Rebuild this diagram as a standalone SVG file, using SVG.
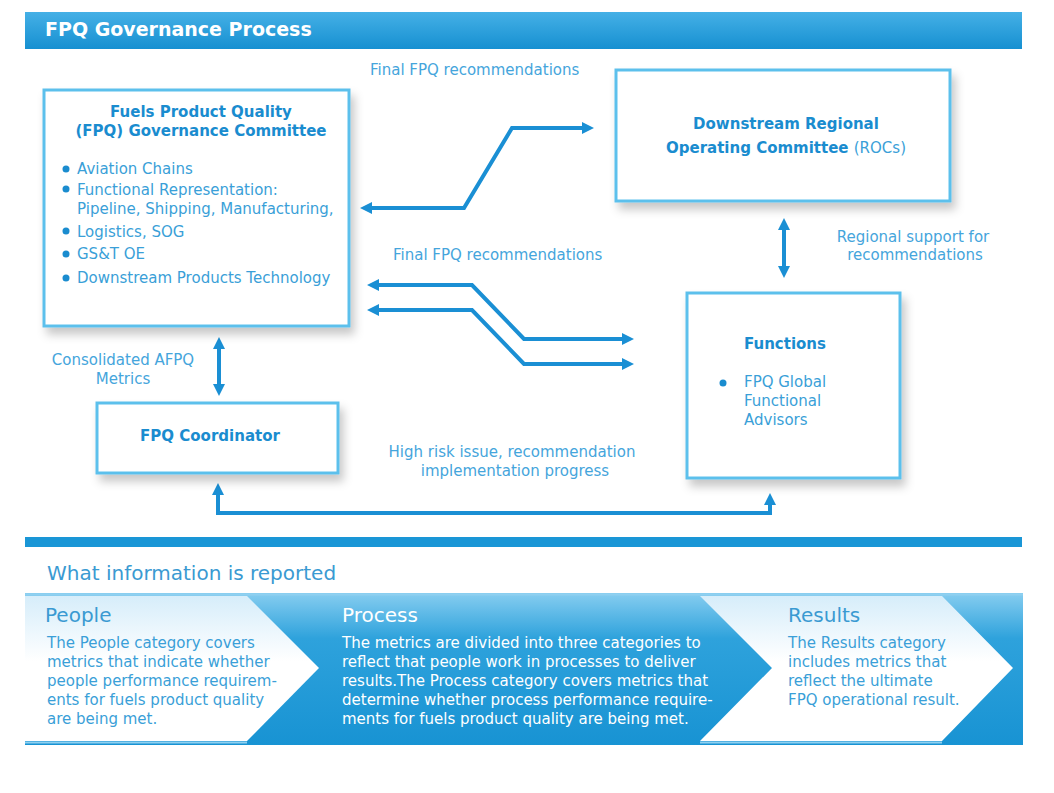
<svg xmlns="http://www.w3.org/2000/svg" width="1054" height="793" viewBox="0 0 1054 793">
<defs>
<linearGradient id="hdr" x1="0" y1="0" x2="0" y2="1">
<stop offset="0" stop-color="#45b0e6"/><stop offset="1" stop-color="#1690d1"/>
</linearGradient>
<linearGradient id="band" x1="0" y1="0" x2="0" y2="1">
<stop offset="0" stop-color="#86cdf0"/><stop offset="0.3" stop-color="#2ea2dc"/><stop offset="1" stop-color="#1893d3"/>
</linearGradient>
<linearGradient id="chev" x1="0" y1="0" x2="0" y2="1">
<stop offset="0" stop-color="#d6edfa"/><stop offset="0.45" stop-color="#ffffff"/><stop offset="1" stop-color="#ffffff"/>
</linearGradient>
<filter id="sh" x="-10%" y="-10%" width="130%" height="135%">
<feDropShadow dx="4" dy="7" stdDeviation="5" flood-color="#000" flood-opacity="0.22"/>
</filter>
<marker id="ah" viewBox="0 0 12 12" markerWidth="12" markerHeight="12" markerUnits="userSpaceOnUse" refX="2" refY="6" orient="auto-start-reverse">
<path d="M0,0 L12,6 L0,12 z" fill="#1a8fd4"/>
</marker>
<style>
text{font-family:"DejaVu Sans",Verdana,sans-serif}
.box{fill:#fff;stroke:#5cc0ec;stroke-width:3;filter:url(#sh)}
.t{font-size:15px;font-weight:bold;fill:#1a8ccf}
.r{font-size:15px;fill:#3a9fd8}
.lbl{font-size:15px;fill:#45a5dc}
.dot{fill:#1a8ccf}
.con{fill:none;stroke:#1a8fd4;stroke-width:4;marker-start:url(#ah);marker-end:url(#ah)}
.h{font-size:20px;fill:#3a9ad2}
.b{font-size:15px;fill:#3a9fd8}
.w{fill:#ffffff}
</style>
</defs>
<rect width="1054" height="793" fill="#fff"/>
<g id="header">
<rect x="25" y="12" width="997" height="37" fill="url(#hdr)"/>
<text x="45" y="36" font-size="19" font-weight="bold" fill="#fff">FPQ Governance Process</text>
</g>
<g id="connectors">
<path class="con" d="M370,208 L464,208 L512,128 L584,128"/>
<path class="con" d="M377,285 L472,285 L524,339 L624,339"/>
<path class="con" d="M377,310 L472,310 L524,364 L624,364"/>
<path class="con" d="M784,228 L784,268"/>
<path class="con" d="M219,347 L219,386"/>
<path class="con" d="M218,493 L218,513 L770,513 L770,503"/>
<text class="lbl" x="370" y="75">Final FPQ recommendations</text>
<text class="lbl" x="393" y="260">Final FPQ recommendations</text>
<text class="lbl" x="913" y="242" text-anchor="middle">Regional support for</text>
<text class="lbl" x="915" y="260" text-anchor="middle">recommendations</text>
<text class="lbl" x="123" y="365" text-anchor="middle">Consolidated AFPQ</text>
<text class="lbl" x="123" y="384" text-anchor="middle">Metrics</text>
<text class="lbl" x="512" y="457" text-anchor="middle">High risk issue, recommendation</text>
<text class="lbl" x="515" y="476" text-anchor="middle">implementation progress</text>
</g>
<g id="committee">
<rect class="box" x="44" y="90" width="305" height="236"/>
<text class="t" x="201" y="117" text-anchor="middle">Fuels Product Quality</text>
<text class="t" x="201" y="136" text-anchor="middle">(FPQ) Governance Committee</text>
<circle class="dot" cx="66" cy="169" r="3.5"/>
<circle class="dot" cx="66" cy="189" r="3.5"/>
<circle class="dot" cx="66" cy="231" r="3.5"/>
<circle class="dot" cx="66" cy="254" r="3.5"/>
<circle class="dot" cx="66" cy="278" r="3.5"/>
<text class="r" x="77" y="174">Aviation Chains</text>
<text class="r" x="77" y="195">Functional Representation:</text>
<text class="r" x="77" y="214">Pipeline, Shipping, Manufacturing,</text>
<text class="r" x="77" y="237">Logistics, SOG</text>
<text class="r" x="77" y="259">GS&amp;T OE</text>
<text class="r" x="77" y="283">Downstream Products Technology</text>
</g>
<g id="rocs">
<rect class="box" x="616" y="70" width="334" height="131"/>
<text class="t" x="786" y="129" text-anchor="middle">Downstream Regional</text>
<text x="786" y="153" text-anchor="middle" font-size="15"><tspan class="t">Operating Committee </tspan><tspan class="r">(ROCs)</tspan></text>
</g>
<g id="functions">
<rect class="box" x="687" y="293" width="213" height="185"/>
<text class="t" x="744" y="349">Functions</text>
<circle class="dot" cx="723" cy="383" r="3.5"/>
<text class="r" x="744" y="387">FPQ Global</text>
<text class="r" x="744" y="406">Functional</text>
<text class="r" x="744" y="425">Advisors</text>
</g>
<g id="coordinator">
<rect class="box" x="97" y="403" width="241" height="70"/>
<text class="t" x="210" y="441" text-anchor="middle">FPQ Coordinator</text>
</g>
<g id="reported">
<rect x="25" y="537" width="997" height="10" fill="#1a96d6"/>
<text class="h" x="47" y="580">What information is reported</text>
<rect x="25" y="593" width="998" height="152" fill="url(#band)"/>
<line x1="25" y1="594.5" x2="1023" y2="594.5" stroke="#8fd0f0" stroke-width="2"/>
<line x1="25" y1="742.5" x2="247" y2="742.5" stroke="#8fd0f0" stroke-width="2"/>
<line x1="700" y1="742.5" x2="942" y2="742.5" stroke="#8fd0f0" stroke-width="2"/>
<polygon points="25,596 247,596 319,668 247,741 25,741" fill="url(#chev)"/>
<polygon points="700,596 942,596 1013,668 942,741 700,741 772,668" fill="url(#chev)"/>
</g>
<g id="people">
<text class="h" x="45" y="622">People</text>
<text class="b" x="47" y="648">The People category covers</text>
<text class="b" x="47" y="667">metrics that indicate whether</text>
<text class="b" x="47" y="686">people performance requirem-</text>
<text class="b" x="47" y="705">ents for fuels product quality</text>
<text class="b" x="47" y="724">are being met.</text>
</g>
<g id="process">
<text class="h w" x="342" y="622">Process</text>
<text class="b w" x="342" y="648">The metrics are divided into three categories to</text>
<text class="b w" x="342" y="667">reflect that people work in processes to deliver</text>
<text class="b w" x="342" y="686">results.The Process category covers metrics that</text>
<text class="b w" x="342" y="705">determine whether process performance require-</text>
<text class="b w" x="342" y="724">ments for fuels product quality are being met.</text>
</g>
<g id="results">
<text class="h" x="788" y="622">Results</text>
<text class="b" x="788" y="648">The Results category</text>
<text class="b" x="788" y="667">includes metrics that</text>
<text class="b" x="788" y="686">reflect the ultimate</text>
<text class="b" x="788" y="705">FPQ operational result.</text>
</g>
</svg>
